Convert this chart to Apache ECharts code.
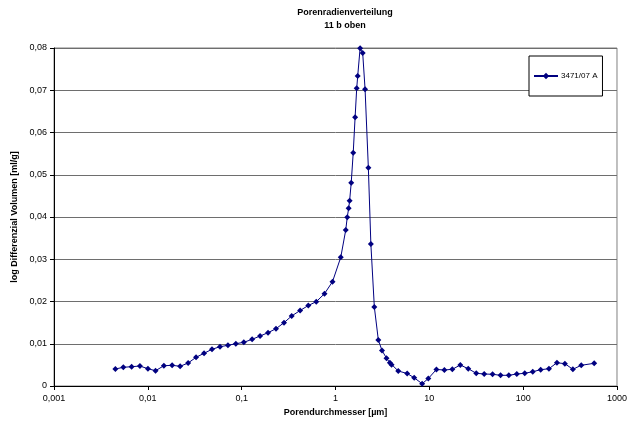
<!DOCTYPE html>
<html>
<head>
<meta charset="utf-8">
<script src="https://cdn.jsdelivr.net/npm/echarts@6/dist/echarts.min.js"></script>
<style>html,body{margin:0;padding:0;background:#fff}#c{width:630px;height:430px}</style>
</head>
<body>
<div id="c"></div>
<script>
const titleLines = ['Porenradienverteilung', '11 b oben'];
const xAxisName = 'Porendurchmesser [µm]';
const yAxisName = 'log Differenzial Volumen [ml/g]';
const seriesName = '3471/07 A';
const xTickLabels = ['0,001', '0,01', '0,1', '1', '10', '100', '1000'];
const yTickLabels = ['0', '0,01', '0,02', '0,03', '0,04', '0,05', '0,06', '0,07', '0,08'];

const poreDiameter = [
  0.00451, 0.00548, 0.00672, 0.00824, 0.01002, 0.01208, 0.01483, 0.01816, 0.02208, 0.02687,
  0.03266, 0.03972, 0.04831, 0.05875, 0.07145, 0.0867, 0.1054, 0.1292, 0.157, 0.191,
  0.2323, 0.2825, 0.3411, 0.4198, 0.5129, 0.6237, 0.7638, 0.9294, 1.138, 1.286,
  1.334, 1.381, 1.415, 1.471, 1.545, 1.618, 1.683, 1.725, 1.829, 1.949,
  2.067, 2.24, 2.382, 2.594, 2.861, 3.132, 3.496, 3.798, 3.96, 4.665,
  5.811, 6.898, 8.387, 9.759, 11.9, 14.47, 17.59, 21.38, 26.01, 31.62,
  38.45, 47.22, 57.41, 70.33, 85.54, 104.0, 126.5, 153.8, 188.3, 229.0,
  278.5, 338.6, 415.8, 571.3
];
const logDiffVolume = [
  0.00402, 0.00443, 0.00457, 0.00473, 0.00409, 0.00362, 0.0048, 0.0049, 0.00466, 0.00544,
  0.00679, 0.00774, 0.00869, 0.0093, 0.00963, 0.01001, 0.01034, 0.01105, 0.01183, 0.01262,
  0.01356, 0.01498, 0.01657, 0.01787, 0.01905, 0.01995, 0.02185, 0.02469, 0.03046, 0.03692,
  0.03993, 0.04206, 0.04386, 0.04812, 0.05522, 0.0636, 0.07046, 0.07337, 0.07993, 0.07882,
  0.07022, 0.05167, 0.03361, 0.0187, 0.01089, 0.0084, 0.00658, 0.00551, 0.00504, 0.00355,
  0.00296, 0.00194, 0.00054, 0.00178, 0.00391, 0.00379, 0.00395, 0.00497, 0.00409, 0.00301,
  0.00284, 0.00277, 0.00253, 0.00253, 0.00284, 0.00301, 0.00338, 0.00386, 0.00409, 0.00551,
  0.00528, 0.00395, 0.0049, 0.00537
];

const chart = echarts.init(document.getElementById('c'), null, {renderer: 'canvas'});
const FONT = 'Liberation Sans, Arial, sans-serif';
const data = poreDiameter.map((x, i) => [x, logDiffVolume[i]]);

chart.setOption({
  backgroundColor: '#ffffff',
  animation: false,
  textStyle: {fontFamily: FONT},
  title: {
    text: titleLines.join('\n'),
    left: 340,
    textAlign: 'center',
    top: 1,
    textStyle: {fontFamily: FONT, fontSize: 9, fontWeight: 'bold', color: '#000', lineHeight: 13}
  },
  legend: {
    data: [seriesName],
    left: 529,
    top: 56,
    orient: 'vertical',
    backgroundColor: '#fff',
    borderColor: '#000',
    borderWidth: 1,
    padding: [16, 5, 16, 4],
    itemWidth: 24,
    itemHeight: 8,
    itemGap: 0,
    textStyle: {fontFamily: FONT, fontSize: 8, color: '#000', padding: [0, 0, 0, -2]}
  },
  grid: {
    left: 54, right: 11, top: 48, bottom: 44,
    show: true, borderColor: '#808080', borderWidth: 1, backgroundColor: 'transparent'
  },
  xAxis: {
    type: 'log',
    logBase: 10,
    min: 0.001,
    max: 1000,
    splitNumber: 6,
    name: xAxisName,
    nameLocation: 'middle',
    nameGap: 20,
    nameTextStyle: {fontFamily: FONT, fontSize: 9, fontWeight: 'bold', color: '#000'},
    axisLine: {show: true, lineStyle: {color: '#000', width: 1}},
    axisTick: {show: true, inside: false, length: 4, lineStyle: {color: '#000'}},
    minorTick: {show: false},
    splitLine: {show: false},
    axisLabel: {
      fontFamily: FONT, fontSize: 9, color: '#000', margin: 8,
      formatter: function (v) {
        const idx = Math.round(Math.log10(v)) + 3;
        return xTickLabels[idx] !== undefined ? xTickLabels[idx] : '';
      }
    }
  },
  yAxis: {
    type: 'value',
    min: 0,
    max: 0.08,
    interval: 0.01,
    name: yAxisName,
    nameLocation: 'middle',
    nameGap: 34,
    nameTextStyle: {fontFamily: FONT, fontSize: 9, fontWeight: 'bold', color: '#000'},
    axisLine: {show: true, lineStyle: {color: '#000', width: 1}},
    axisTick: {show: true, inside: false, length: 4, lineStyle: {color: '#000'}},
    splitLine: {show: true, lineStyle: {color: '#6e6e6e', width: 1}},
    axisLabel: {
      fontFamily: FONT, fontSize: 9, color: '#000', margin: 7,
      formatter: function (v) {
        const idx = Math.round(v / 0.01);
        return yTickLabels[idx] !== undefined ? yTickLabels[idx] : '';
      }
    }
  },
  series: [{
    name: seriesName,
    type: 'line',
    data: data,
    color: '#000080',
    symbol: 'diamond',
    symbolSize: 6,
    showSymbol: true,
    lineStyle: {color: '#000080', width: 1},
    itemStyle: {color: '#000080'}
  }]
});
</script>
</body>
</html>
